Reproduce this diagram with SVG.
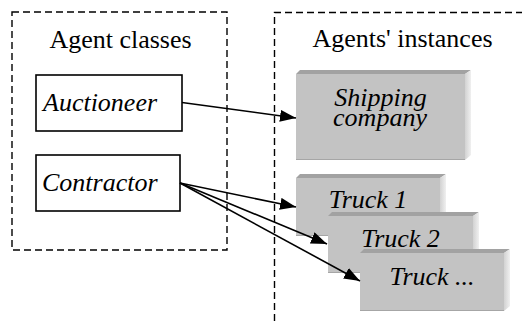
<svg xmlns="http://www.w3.org/2000/svg" width="522" height="321" viewBox="0 0 522 321">
  <style>
    .frame { fill: none; stroke: #000; stroke-width: 1.4; stroke-dasharray: 7 4; }
    text { font-family: 'Liberation Serif', 'Times New Roman', Times, serif; font-size: 26px; fill: #000; }
    .lbl { font-style: italic; }
    .cls { fill: #fff; stroke: #000; stroke-width: 1.6; }
    .face { fill: #c3c3c3; }
    .top { fill: #a2a2a2; }
    .side { fill: url(#sideShade); }
    .base { stroke: #a6a6a6; stroke-width: 1.2; }
    .link { fill: none; stroke: #000; stroke-width: 1.6; }
  </style>
  <defs>
    <linearGradient id="sideShade" x1="0" y1="0" x2="1" y2="0">
      <stop offset="0" stop-color="#d2d2d2"/>
      <stop offset="1" stop-color="#f0f0f0"/>
    </linearGradient>
    <marker id="head" viewBox="0 0 16 12" refX="16" refY="6" markerWidth="16" markerHeight="12" markerUnits="userSpaceOnUse" orient="auto">
      <path d="M0,0 L16,6 L0,12 z" fill="#000"/>
    </marker>
  </defs>

  <!-- dashed groupings -->
  <g id="agent-classes">
    <rect class="frame" x="12" y="12" width="215" height="238"/>
    <text x="120.5" y="47.5" text-anchor="middle" font-family="Liberation Serif">Agent classes</text>
  </g>
  <g id="agents-instances">
    <path class="frame" d="M274.5,321 L274.5,12.5 L522,12.5"/>
    <text x="402.5" y="47" text-anchor="middle" font-family="Liberation Serif">Agents' instances</text>
  </g>

  <!-- class boxes -->
  <g id="auctioneer">
    <rect class="cls" x="36" y="75" width="146" height="56"/>
    <text class="lbl" x="43" y="111">Auctioneer</text>
  </g>
  <g id="contractor">
    <rect class="cls" x="36" y="155" width="144" height="56"/>
    <text class="lbl" x="42" y="191">Contractor</text>
  </g>

  <!-- instance blocks (front face, top bevel, side bevel) -->
  <g id="shipping-company">
    <rect class="face" x="296" y="74" width="169" height="86"/>
    <polygon class="top" points="296,74 300,70 471,70 465,74"/>
    <polygon class="side" points="465,74 471,70 471,155 465,160"/>
    <line class="base" x1="296" y1="159.5" x2="465" y2="159.5"/>
    <text class="lbl" x="380.5" y="106" text-anchor="middle">Shipping</text>
    <text class="lbl" x="380" y="125.5" text-anchor="middle">company</text>
  </g>
  <g id="truck-1">
    <rect class="face" x="296" y="178" width="144" height="58"/>
    <polygon class="top" points="296,178 300,174 446,174 440,178"/>
    <polygon class="side" points="440,178 446,174 446,231 440,236"/>
    <line class="base" x1="296" y1="235.5" x2="440" y2="235.5"/>
    <text class="lbl" x="368" y="208" text-anchor="middle">Truck 1</text>
  </g>
  <g id="truck-2">
    <rect class="face" x="328" y="216" width="145" height="57"/>
    <polygon class="top" points="328,216 332,212 479,212 473,216"/>
    <polygon class="side" points="473,216 479,212 479,268 473,273"/>
    <line class="base" x1="328" y1="272.5" x2="473" y2="272.5"/>
    <text class="lbl" x="400.5" y="246.5" text-anchor="middle">Truck 2</text>
  </g>
  <g id="truck-n">
    <rect class="face" x="360" y="253" width="144" height="58"/>
    <polygon class="top" points="360,253 364,249 510,249 504,253"/>
    <polygon class="side" points="504,253 510,249 510,306 504,311"/>
    <line class="base" x1="360" y1="310.5" x2="504" y2="310.5"/>
    <text class="lbl" x="432" y="285" text-anchor="middle">Truck ...</text>
  </g>

  <!-- connectors -->
  <g id="connectors">
    <line class="link" x1="182" y1="102.5" x2="296" y2="118" marker-end="url(#head)"/>
    <line class="link" x1="180" y1="183" x2="296" y2="207" marker-end="url(#head)"/>
    <line class="link" x1="180" y1="183" x2="327" y2="244" marker-end="url(#head)"/>
    <line class="link" x1="180" y1="183" x2="360" y2="281" marker-end="url(#head)"/>
  </g>
</svg>
